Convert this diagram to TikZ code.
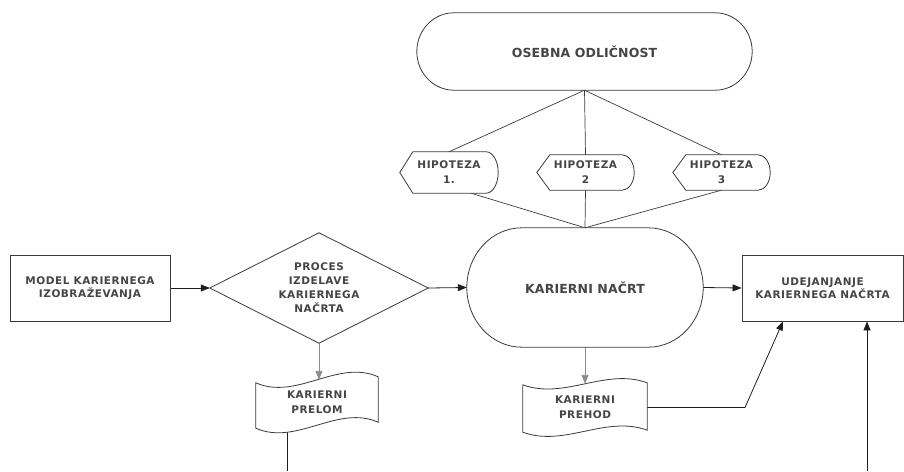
\documentclass[tikz,border=0pt]{standalone}
\usepackage{fontspec}
\usetikzlibrary{arrows.meta,calc}

\newfontfamily\chartfont{DejaVu Sans}[LetterSpace=5]
\newfontfamily\titlefont{DejaVu Sans}[LetterSpace=1]

\definecolor{edge}{HTML}{3A3A3A}
\definecolor{wire}{HTML}{1E1E1E}
\definecolor{softwire}{HTML}{8C8C8C}
\definecolor{ink}{HTML}{454545}

\pgfdeclarelayer{wires}
\pgfdeclarelayer{outlines}
\pgfsetlayers{wires,outlines,main}

\tikzset{
  base/.style={inner sep=0pt, align=center, text=ink},
  small/.style={base, font=\chartfont\bfseries\fontsize{10.5}{#1}\selectfont},
  small/.default=13,
  large/.style={base, font=\titlefont\bfseries\fontsize{12.5}{14}\selectfont},
  box/.style={draw=edge, line width=0.8pt, fill=white},
  outline/.style={draw=edge, line width=0.8pt, fill=white},
  wire/.style={draw=wire, line width=0.8pt},
  link/.style={draw=edge, line width=0.7pt},
  flow/.style={wire, -{Triangle[length=9pt,width=7pt]}},
  softflow/.style={draw=softwire, line width=0.9pt, -{Triangle[length=9pt,width=7pt]}},
}

% stadium outline: node, end radius, half height
\newcommand\stadium[3]{%
  \draw[outline]
    ($(#1.north west)+(#2,0)$) -- ($(#1.north east)+(-#2,0)$)
    .. controls ($(#1.north east)+({-0.4477*#2},0)$) and ($(#1.east)+(0,{-0.5523*#3})$) .. (#1.east)
    .. controls ($(#1.east)+(0,{0.5523*#3})$) and ($(#1.south east)+({-0.4477*#2},0)$) .. ($(#1.south east)+(-#2,0)$)
    -- ($(#1.south west)+(#2,0)$)
    .. controls ($(#1.south west)+({0.4477*#2},0)$) and ($(#1.west)+(0,{0.5523*#3})$) .. (#1.west)
    .. controls ($(#1.west)+(0,{-0.5523*#3})$) and ($(#1.north west)+({0.4477*#2},0)$) .. ($(#1.north west)+(#2,0)$)
    -- cycle;}

% display outline: node, point depth, bulge depth, half height
\newcommand\displayshape[4]{%
  \draw[outline]
    (#1.west) -- ($(#1.north west)+(#2,0)$) -- ($(#1.north east)+(-#3,0)$)
    .. controls ($(#1.north east)+({-0.4477*#3},0)$) and ($(#1.east)+(0,{-0.5523*#4})$) .. (#1.east)
    .. controls ($(#1.east)+(0,{0.5523*#4})$) and ($(#1.south east)+({-0.4477*#3},0)$) .. ($(#1.south east)+(-#3,0)$)
    -- ($(#1.south west)+(#2,0)$) -- cycle;}

% wavy sheet outline: node, bend, tilt
\newcommand\wavesheet[3]{%
  \draw[outline]
    ($(#1.north west)+(0,#3)$)
    .. controls ($(#1.north west)!1/3!(#1.north east)+(0,{#2+#3/3})$) and ($(#1.north west)!2/3!(#1.north east)+(0,{-#2-#3/3})$) .. ($(#1.north east)+(0,-#3)$)
    -- ($(#1.south east)+(0,-#3)$)
    .. controls ($(#1.south west)!2/3!(#1.south east)+(0,{-#2-#3/3})$) and ($(#1.south west)!1/3!(#1.south east)+(0,{#2+#3/3})$) .. ($(#1.south west)+(0,#3)$)
    -- cycle;}

\begin{document}
\begin{tikzpicture}[x=1pt, y=-1pt]
\useasboundingbox (0,0) rectangle (904,471);

% nodes
\node[large, minimum width=335pt, minimum height=77pt] (osebna) at (584.5,51.5) {OSEBNA ODLIČNOST};
\node[small=15, minimum width=98pt, minimum height=41pt] (hyp1) at (449,172.5) {HIPOTEZA\\1.};
\node[small=15, minimum width=97pt, minimum height=35pt] (hyp2) at (585.5,172.5) {HIPOTEZA\\2};
\node[small=15, minimum width=97pt, minimum height=35pt] (hyp3) at (721.5,172.5) {HIPOTEZA\\3};
\node[large, minimum width=236pt, minimum height=119pt] (plan) at (585,287.5) {KARIERNI NAČRT};
\node[small, box, minimum width=160pt, minimum height=66pt] (model) at (90,288) {MODEL KARIERNEGA\\IZOBRAŽEVANJA};
\node[small=14, minimum width=218pt, minimum height=110pt] (proc) at (319,288) {PROCES\\IZDELAVE\\KARIERNEGA\\NAČRTA};
\node[small, box, minimum width=161pt, minimum height=66pt] (deploy) at (822.5,288) {UDEJANJANJE\\KARIERNEGA NAČRTA};
\node[small=15, minimum width=122pt, minimum height=45pt] (break) at (317,402.5) {KARIERNI\\PRELOM};
\node[small=15, minimum width=124pt, minimum height=47pt] (shift) at (585,407.5) {KARIERNI\\PREHOD};

\coordinate (breakout) at (287,471);
\coordinate (kink) at (745,407.5);
\coordinate (feed) at (867,471);

% shape outlines
\begin{pgfonlayer}{outlines}
  \stadium{osebna}{37}{38.5}
  \stadium{plan}{55}{59.5}
  \displayshape{hyp1}{13}{12}{20.5}
  \displayshape{hyp2}{13}{12}{17.5}
  \displayshape{hyp3}{13}{12}{17.5}
  \draw[outline] (proc.west) -- (proc.north) -- (proc.east) -- (proc.south) -- cycle;
  \wavesheet{break}{20}{3}
  \wavesheet{shift}{16}{1}
\end{pgfonlayer}

% connectors
\begin{pgfonlayer}{wires}
  \draw[link] (osebna.south) -- (hyp1.north);
  \draw[link] (osebna.south) -- (hyp2.north);
  \draw[link] (osebna.south) -- (hyp3.north);
  \draw[link] ([xshift=22pt]hyp1.south) -- (plan.north);
  \draw[link] (hyp2.south) -- (plan.north);
  \draw[link] (hyp3.south) -- (plan.north);

  \draw[flow] (model.east) -- (proc.west);
  \draw[flow] (proc.east) -- (plan.west);
  \draw[flow] (plan.east) -- (deploy.west);
  \draw[softflow] (proc.south) -- (proc.south |- break.north);
  \draw[softflow] (plan.south) -- (plan.south |- shift.north);
  \draw[wire] (breakout |- break.south) -- (breakout);
  \draw[flow] (shift.east) -- (kink) -- ([xshift=-39.5pt]deploy.south);
  \draw[flow] (feed) -- (feed |- deploy.south);
\end{pgfonlayer}
\end{tikzpicture}
\end{document}
